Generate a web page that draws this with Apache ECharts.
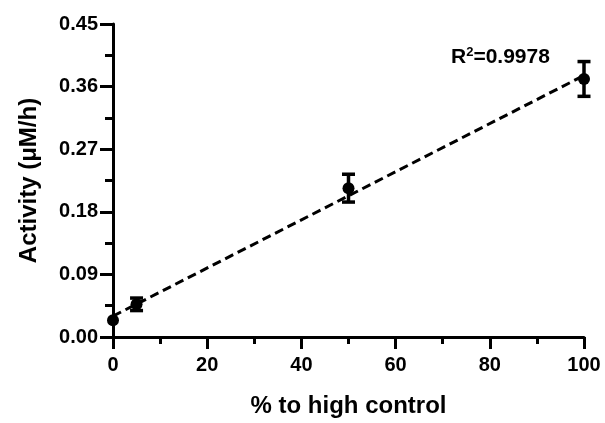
<!DOCTYPE html>
<html>
<head>
<meta charset="utf-8">
<script src="https://cdn.jsdelivr.net/npm/echarts@6/dist/echarts.min.js"></script>
<style>
html, body { margin: 0; padding: 0; background: #fff; }
#chart { width: 605px; height: 423px; }
</style>
</head>
<body>
<div id="chart"></div>
<script>
// measured points: % of high control vs activity
var xValues = [0, 5, 50, 100];
var yValues = [0.024, 0.047, 0.214, 0.371];
var yErr = [0, 0.009, 0.02, 0.025];
// ends of the fitted line
var fitX = [0, 100];
var fitY = [0.030, 0.376];
var rLabel = '0.9978';

var font = 'Liberation Sans, Arial, sans-serif';

var points = xValues.map(function (x, i) { return [x, yValues[i]]; });
var bars = xValues.map(function (x, i) { return [x, yValues[i] - yErr[i], yValues[i] + yErr[i]]; });
var fit = fitX.map(function (x, i) { return [x, fitY[i]]; });

var axisCommon = {
    axisLine: { show: true, lineStyle: { color: '#000', width: 3 } },
    axisTick: { show: true, length: 12, lineStyle: { color: '#000', width: 3 } },
    minorTick: { show: true, splitNumber: 2, length: 7, lineStyle: { color: '#000', width: 3 } },
    splitLine: { show: false },
    axisLabel: { color: '#000', fontFamily: font, fontWeight: 'bold', fontSize: 20 },
    nameTextStyle: { color: '#000', fontFamily: font, fontWeight: 'bold', fontSize: 24 }
};

var option = {
    backgroundColor: '#fff',
    animation: false,
    grid: { left: 113, right: 21, top: 24, bottom: 83 },
    xAxis: Object.assign({}, axisCommon, {
        type: 'value',
        min: 0,
        max: 100,
        interval: 20,
        name: '% to high control',
        nameLocation: 'middle',
        nameGap: 57,
        axisLabel: Object.assign({}, axisCommon.axisLabel, { margin: 18 })
    }),
    yAxis: Object.assign({}, axisCommon, {
        type: 'value',
        min: 0,
        max: 0.45,
        interval: 0.09,
        name: 'Activity (μM/h)',
        nameLocation: 'middle',
        nameGap: 72,
        axisTick: { show: true, length: 13, lineStyle: { color: '#000', width: 3 } },
        minorTick: { show: true, splitNumber: 2, length: 8, lineStyle: { color: '#000', width: 3 } },
        axisLabel: Object.assign({}, axisCommon.axisLabel, {
            margin: 15,
            formatter: function (v) { return v.toFixed(2); }
        })
    }),
    series: [
        {
            type: 'line',
            data: fit,
            symbol: 'none',
            lineStyle: { color: '#000', width: 3, type: [9, 5] },
            z: 2
        },
        {
            type: 'custom',
            data: bars,
            renderItem: function (params, api) {
                var x = api.value(0);
                var lo = api.coord([x, api.value(1)]);
                var hi = api.coord([x, api.value(2)]);
                if (hi[1] === lo[1]) return null;
                var w = 6.5;
                var style = { stroke: '#000', lineWidth: 3.5 };
                return {
                    type: 'group',
                    children: [
                        { type: 'line', shape: { x1: lo[0], y1: lo[1], x2: hi[0], y2: hi[1] }, style: style },
                        { type: 'line', shape: { x1: lo[0] - w, y1: lo[1], x2: lo[0] + w, y2: lo[1] }, style: style },
                        { type: 'line', shape: { x1: hi[0] - w, y1: hi[1], x2: hi[0] + w, y2: hi[1] }, style: style }
                    ]
                };
            },
            z: 3
        },
        {
            type: 'scatter',
            data: points,
            symbol: 'circle',
            symbolSize: 12,
            itemStyle: { color: '#000', opacity: 1 },
            z: 4
        }
    ],
    graphic: [{
        type: 'text',
        left: 451,
        top: 46,
        style: {
            text: '{b|R}{s|2}{b|=' + rLabel + '}',
            rich: {
                b: { fontFamily: font, fontWeight: 'bold', fontSize: 21, fill: '#000', verticalAlign: 'bottom' },
                s: { fontFamily: font, fontWeight: 'bold', fontSize: 13, fill: '#000', verticalAlign: 'top', padding: [0, 0, 9, 0] }
            }
        }
    }]
};

var myChart = echarts.init(document.getElementById('chart'));
myChart.setOption(option);
</script>
</body>
</html>
